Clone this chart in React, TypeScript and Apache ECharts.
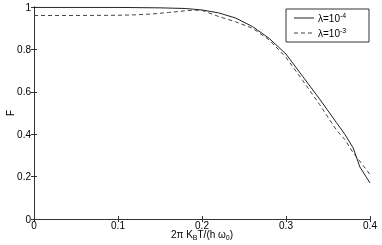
import React, { useEffect, useRef } from "react";
import * as echarts from "echarts";

const tSolid = [0, 0.05, 0.1, 0.15, 0.18, 0.2, 0.22, 0.24, 0.26, 0.28, 0.3, 0.32, 0.34, 0.36, 0.37, 0.38, 0.388, 0.4];
const fSolid = [0.998, 0.998, 0.998, 0.996, 0.993, 0.986, 0.972, 0.948, 0.908, 0.852, 0.778, 0.672, 0.566, 0.455, 0.4, 0.335, 0.245, 0.17];

const tDashed = [0, 0.05, 0.1, 0.12, 0.14, 0.16, 0.18, 0.19, 0.2, 0.22, 0.24, 0.26, 0.28, 0.3, 0.32, 0.34, 0.36, 0.37, 0.38, 0.39, 0.4];
const fDashed = [0.96, 0.96, 0.961, 0.963, 0.967, 0.974, 0.982, 0.985, 0.984, 0.955, 0.93, 0.9, 0.845, 0.762, 0.653, 0.54, 0.42, 0.375, 0.312, 0.262, 0.21];

const legendBase = ["λ=10", "λ=10"];
const legendExp = ["-4", "-3"];
const xTicks = { min: 0, max: 0.4, interval: 0.1 };
const yTicks = { min: 0, max: 1, interval: 0.2 };

const FONT = "'Liberation Sans', Arial, sans-serif";

export default function App() {
  const ref = useRef<HTMLDivElement>(null);
  useEffect(() => {
    if (!ref.current) return;
    const chart = echarts.init(ref.current, undefined, { renderer: "svg" });
    const axisLine = { show: true, lineStyle: { color: "#333", width: 1 } };
    const tick = { show: true, inside: true, length: 3, lineStyle: { color: "#333" } };
    const label = { color: "#000", fontSize: 10, fontFamily: FONT };
    const lx = 286, ly = 9, lw = 83, lh = 33;
    const legendEls: any[] = [];
    [0, 1].forEach((i) => {
      const cy = ly + 9 + i * 15;
      legendEls.push({
        type: "line",
        z: 11,
        shape: { x1: lx + 8, y1: cy, x2: lx + 28, y2: cy },
        style: { stroke: i === 0 ? "#222" : "#444", lineWidth: 1, lineDash: i === 0 ? null : [4, 3] },
      });
      legendEls.push({
        type: "text",
        z: 11,
        x: lx + 32,
        y: cy - 6,
        style: {
          text: `${legendBase[i]}{sup|${legendExp[i]}}`,
          fontSize: 10,
          fontFamily: FONT,
          fill: "#000",
          rich: { sup: { fontSize: 7, fontFamily: FONT, fill: "#000", verticalAlign: "top", padding: [0, 0, 6, 0] } },
        },
      });
    });
    chart.setOption({
      animation: false,
      textStyle: { fontFamily: FONT },
      grid: { left: 34, right: 12, top: 7, bottom: 26, containLabel: false, outerBoundsMode: "none" },
      graphic: [
        {
          type: "rect",
          z: 10,
          shape: { x: lx, y: ly, width: lw, height: lh },
          style: { fill: "#fff", stroke: "#333", lineWidth: 1 },
        },
        ...legendEls,
      ],
      xAxis: [
        {
          type: "value",
          ...xTicks,
          position: "bottom",
          axisLine,
          axisTick: tick,
          splitLine: { show: false },
          axisLabel: { ...label, margin: 1 },
          name: "2π K{sub|B}T/(h ω{sub|0})",
          nameLocation: "middle",
          nameGap: 9,
          nameMoveOverlap: false,
          nameTextStyle: {
            fontSize: 10,
            color: "#000",
            fontFamily: FONT,
            rich: { sub: { fontSize: 7, verticalAlign: "bottom", padding: [6, 0, 0, 0], color: "#000", fontFamily: FONT } },
          },
        },
        {
          type: "value",
          ...xTicks,
          position: "top",
          axisLine,
          axisTick: tick,
          splitLine: { show: false },
          axisLabel: { show: false },
        },
      ],
      yAxis: [
        {
          type: "value",
          ...yTicks,
          position: "left",
          axisLine,
          axisTick: tick,
          splitLine: { show: false },
          axisLabel: { ...label, margin: 3 },
          name: "F",
          nameLocation: "middle",
          nameGap: 19,
          nameMoveOverlap: false,
          nameTextStyle: { fontSize: 10, color: "#000", fontFamily: FONT },
        },
        {
          type: "value",
          ...yTicks,
          position: "right",
          axisLine,
          axisTick: tick,
          splitLine: { show: false },
          axisLabel: { show: false },
        },
      ],
      series: [
        {
          name: "λ=1e-4",
          type: "line",
          data: tSolid.map((t, i) => [t, fSolid[i]]),
          showSymbol: false,
          symbol: "none",
          smooth: false,
          lineStyle: { color: "#222", width: 1, type: "solid" },
        },
        {
          name: "λ=1e-3",
          type: "line",
          data: tDashed.map((t, i) => [t, fDashed[i]]),
          showSymbol: false,
          symbol: "none",
          smooth: false,
          lineStyle: { color: "#444", width: 1, type: [4, 3] },
        },
      ],
    });
    return () => chart.dispose();
  }, []);
  return <div ref={ref} style={{ width: 382, height: 245, position: "fixed", left: 0, top: 0 }} />;
}
